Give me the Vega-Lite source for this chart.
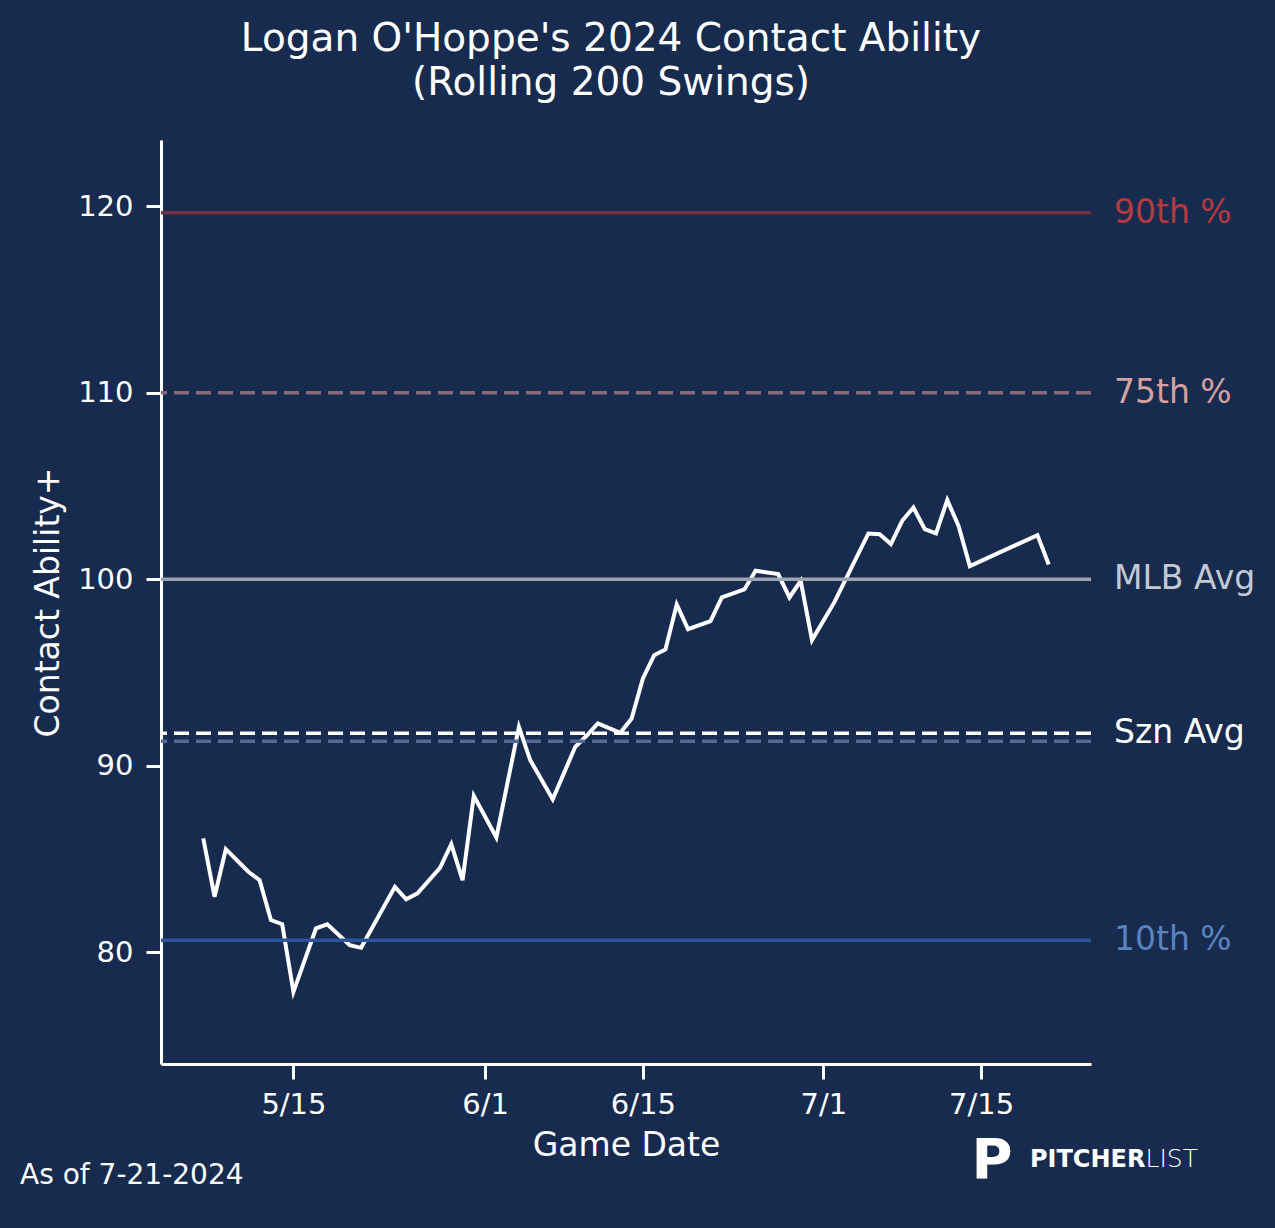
{
  "$schema": "https://vega.github.io/schema/vega-lite/v6.json",
  "autosize": {"type": "none"},
  "padding": {"left": 161, "top": 140, "right": 184, "bottom": 164},
  "width": 930,
  "height": 924,
  "background": "#172b4f",
  "title": {
    "text": ["Logan O'Hoppe's 2024 Contact Ability", "(Rolling 200 Swings)"],
    "font": "DejaVu Sans",
    "fontSize": 39,
    "fontWeight": "normal",
    "color": "white",
    "anchor": "middle",
    "dx": -15,
    "lineHeight": 44,
    "offset": 37
  },
  "datasets": {
    "rolling": [
      {"date": "2024-05-07", "contact": 86.1},
      {"date": "2024-05-08", "contact": 82.97},
      {"date": "2024-05-09", "contact": 85.52},
      {"date": "2024-05-11", "contact": 84.31},
      {"date": "2024-05-12", "contact": 83.86},
      {"date": "2024-05-13", "contact": 81.72},
      {"date": "2024-05-14", "contact": 81.5},
      {"date": "2024-05-15", "contact": 77.87},
      {"date": "2024-05-17", "contact": 81.27},
      {"date": "2024-05-18", "contact": 81.49},
      {"date": "2024-05-20", "contact": 80.37},
      {"date": "2024-05-21", "contact": 80.23},
      {"date": "2024-05-24", "contact": 83.5},
      {"date": "2024-05-25", "contact": 82.83},
      {"date": "2024-05-26", "contact": 83.15},
      {"date": "2024-05-28", "contact": 84.52},
      {"date": "2024-05-29", "contact": 85.79},
      {"date": "2024-05-30", "contact": 83.86},
      {"date": "2024-05-31", "contact": 88.38},
      {"date": "2024-06-02", "contact": 86.15},
      {"date": "2024-06-04", "contact": 92.08},
      {"date": "2024-06-05", "contact": 90.3},
      {"date": "2024-06-07", "contact": 88.2},
      {"date": "2024-06-09", "contact": 91.01},
      {"date": "2024-06-10", "contact": 91.6},
      {"date": "2024-06-11", "contact": 92.26},
      {"date": "2024-06-13", "contact": 91.76},
      {"date": "2024-06-14", "contact": 92.53},
      {"date": "2024-06-15", "contact": 94.68},
      {"date": "2024-06-16", "contact": 95.92},
      {"date": "2024-06-17", "contact": 96.23},
      {"date": "2024-06-18", "contact": 98.64},
      {"date": "2024-06-19", "contact": 97.32},
      {"date": "2024-06-21", "contact": 97.75},
      {"date": "2024-06-22", "contact": 99.02},
      {"date": "2024-06-24", "contact": 99.45},
      {"date": "2024-06-25", "contact": 100.45},
      {"date": "2024-06-27", "contact": 100.27},
      {"date": "2024-06-28", "contact": 99.02},
      {"date": "2024-06-29", "contact": 99.91},
      {"date": "2024-06-30", "contact": 96.73},
      {"date": "2024-07-02", "contact": 98.78},
      {"date": "2024-07-05", "contact": 102.45},
      {"date": "2024-07-06", "contact": 102.41},
      {"date": "2024-07-07", "contact": 101.88},
      {"date": "2024-07-08", "contact": 103.13},
      {"date": "2024-07-09", "contact": 103.84},
      {"date": "2024-07-10", "contact": 102.68},
      {"date": "2024-07-11", "contact": 102.45},
      {"date": "2024-07-12", "contact": 104.24},
      {"date": "2024-07-13", "contact": 102.86},
      {"date": "2024-07-14", "contact": 100.7},
      {"date": "2024-07-20", "contact": 102.36},
      {"date": "2024-07-21", "contact": 100.79}
    ],
    "refs": [
      {"ref": "90th %", "value": 119.65},
      {"ref": "75th %", "value": 110.0},
      {"ref": "MLB Avg", "value": 100.0},
      {"ref": "Szn Avg", "value": 91.74},
      {"ref": "Szn Avg (prior)", "value": 91.31},
      {"ref": "10th %", "value": 80.64}
    ]
  },
  "config": {
    "view": {"stroke": null},
    "font": "DejaVu Sans",
    "axis": {
      "grid": false,
      "domainColor": "white",
      "domainWidth": 3,
      "tickColor": "white",
      "tickWidth": 3,
      "tickSize": 15,
      "labelColor": "white",
      "labelFont": "DejaVu Sans",
      "labelFontSize": 29,
      "titleColor": "white",
      "titleFont": "DejaVu Sans",
      "titleFontSize": 33,
      "titleFontWeight": "normal"
    }
  },
  "resolve": {"scale": {"color": "independent", "strokeDash": "independent"}},
  "layer": [
    {
      "data": {"name": "rolling"},
      "mark": {"type": "line", "color": "white", "strokeWidth": 4},
      "encoding": {
        "x": {
          "field": "date",
          "type": "temporal",
          "title": "Game Date",
          "scale": {
            "type": "utc",
            "domain": [
              {"year": 2024, "month": 5, "date": 3, "hours": 6, "utc": true},
              {"year": 2024, "month": 7, "date": 24, "hours": 18, "utc": true}
            ]
          },
          "axis": {
            "format": "%-m/%-d",
            "values": [
              {"year": 2024, "month": 5, "date": 15, "utc": true},
              {"year": 2024, "month": 6, "date": 1, "utc": true},
              {"year": 2024, "month": 6, "date": 15, "utc": true},
              {"year": 2024, "month": 7, "date": 1, "utc": true},
              {"year": 2024, "month": 7, "date": 15, "utc": true}
            ],
            "labelPadding": 11,
            "titlePadding": 10
          }
        },
        "y": {
          "field": "contact",
          "type": "quantitative",
          "title": "Contact Ability+",
          "scale": {"domain": [74, 123.55], "nice": false, "zero": false},
          "axis": {"values": [80, 90, 100, 110, 120], "labelPadding": 13, "titlePadding": 12}
        }
      }
    },
    {
      "data": {"name": "refs"},
      "mark": {"type": "rule", "strokeWidth": 3.5},
      "encoding": {
        "y": {"field": "value", "type": "quantitative"},
        "color": {
          "field": "ref",
          "type": "nominal",
          "legend": null,
          "scale": {
            "domain": ["90th %", "75th %", "MLB Avg", "Szn Avg", "Szn Avg (prior)", "10th %"],
            "range": ["#732f44", "#86697a", "#9ca3b2", "#ffffff", "#536c96", "#2b5597"]
          }
        },
        "strokeDash": {
          "field": "ref",
          "type": "nominal",
          "legend": null,
          "scale": {
            "domain": ["90th %", "75th %", "MLB Avg", "Szn Avg", "Szn Avg (prior)", "10th %"],
            "range": [[1, 0], [15, 7], [1, 0], [15, 7], [15, 7], [1, 0]]
          }
        }
      }
    },
    {
      "data": {"name": "refs"},
      "transform": [{"filter": "datum.ref != 'Szn Avg (prior)'"}],
      "mark": {"type": "text", "align": "left", "baseline": "middle", "dx": 23, "fontSize": 33, "font": "DejaVu Sans"},
      "encoding": {
        "x": {"datum": {"year": 2024, "month": 7, "date": 24, "hours": 18, "utc": true}, "type": "temporal"},
        "y": {"field": "value", "type": "quantitative"},
        "text": {"field": "ref"},
        "color": {
          "field": "ref",
          "type": "nominal",
          "legend": null,
          "scale": {
            "domain": ["90th %", "75th %", "MLB Avg", "Szn Avg", "10th %"],
            "range": ["#b33a3f", "#d4a0a0", "#c3c8d2", "#ffffff", "#5a82bf"]
          }
        }
      }
    },
    {
      "data": {"values": [{"note": "As of 7-21-2024"}]},
      "mark": {"type": "text", "align": "left", "baseline": "alphabetic", "fontSize": 28, "font": "DejaVu Sans", "color": "white"},
      "encoding": {
        "x": {"datum": {"year": 2024, "month": 4, "date": 20, "hours": 18, "utc": true}, "type": "temporal"},
        "y": {"datum": 67.57, "type": "quantitative"},
        "text": {"field": "note"}
      }
    },
    {
      "data": {"values": [{"logo": "P"}]},
      "mark": {"type": "text", "align": "center", "baseline": "alphabetic", "fontSize": 56, "font": "DejaVu Sans", "fontWeight": "bold", "color": "white"},
      "encoding": {
        "x": {"datum": {"year": 2024, "month": 7, "date": 15, "hours": 23, "utc": true}, "type": "temporal"},
        "y": {"datum": 67.89, "type": "quantitative"},
        "text": {"field": "logo"}
      }
    },
    {
      "data": {"values": [{"logo": "PITCHER"}]},
      "mark": {"type": "text", "align": "left", "baseline": "alphabetic", "fontSize": 24, "font": "DejaVu Sans", "fontWeight": "bold", "color": "white"},
      "encoding": {
        "x": {"datum": {"year": 2024, "month": 7, "date": 19, "hours": 8, "utc": true}, "type": "temporal"},
        "y": {"datum": 68.48, "type": "quantitative"},
        "text": {"field": "logo"}
      }
    },
    {
      "data": {"values": [{"logo": "LIST"}]},
      "mark": {"type": "text", "align": "left", "baseline": "alphabetic", "fontSize": 25, "font": "DejaVu Sans", "fontWeight": 200, "color": "white"},
      "encoding": {
        "x": {"datum": {"year": 2024, "month": 7, "date": 29, "hours": 14, "utc": true}, "type": "temporal"},
        "y": {"datum": 68.48, "type": "quantitative"},
        "text": {"field": "logo"}
      }
    }
  ]
}
